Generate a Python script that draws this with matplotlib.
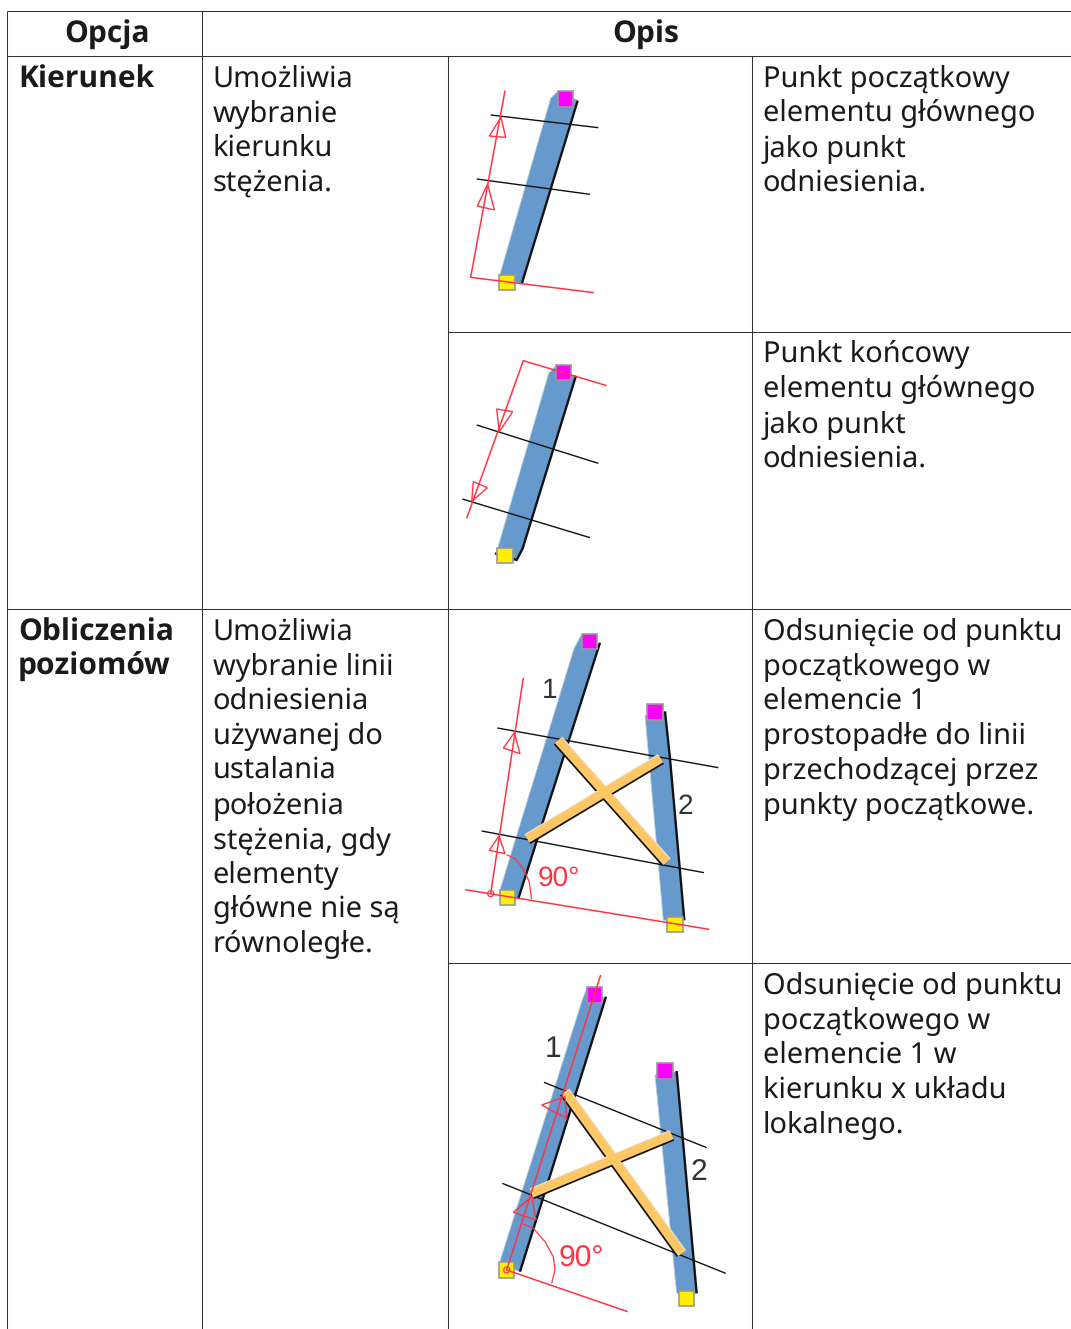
import matplotlib
matplotlib.use("Agg")
import matplotlib.pyplot as plt
from matplotlib.patches import Polygon, Rectangle, Circle
import numpy as np

plt.rcParams["text.hinting"] = "no_hinting"
plt.rcParams["text.hinting_factor"] = 1

W, H = 1071, 1329
FONT = "Noto Sans"
BOLD_FONT = "Open Sans"
FS = 20.85
BOLD_FS = 21.4
LINE = 34.7
TXT = "#1a1a1a"
GRID = "#333333"
BLUE = "#6699cc"; RED = "#ff3344"; ORANGE = "#ffc766"; MAG = "#ff00ff"; YEL = "#ffee00"

headers = [("Opcja", 107), ("Opis", 646)]
option_names = [(["Kierunek"], 87.5), (["Obliczenia", "poziomów"], 640.5)]
option_desc = [
    (["Umożliwia", "wybranie", "kierunku", "stężenia."], 86.4),
    (["Umożliwia", "wybranie linii", "odniesienia", "używanej do", "ustalania", "położenia",
      "stężenia, gdy", "elementy", "główne nie są", "równoległe."], 639.4),
]
cell_desc = [
    (["Punkt początkowy", "elementu głównego", "jako punkt", "odniesienia."], 86.4),
    (["Punkt końcowy", "elementu głównego", "jako punkt", "odniesienia."], 362.4),
    (["Odsunięcie od punktu", "początkowego w", "elemencie 1", "prostopadłe do linii",
      "przechodzącej przez", "punkty początkowe."], 639.4),
    (["Odsunięcie od punktu", "początkowego w", "elemencie 1 w", "kierunku x układu", "lokalnego."], 993.4),
]

# Table rules, as (x0, y0, x1, y1)
rules = [(7, 11, W, 11), (7, 56, W, 56), (7, 609, W, 609), (448, 332, W, 332), (448, 963, W, 963),
         (7, 11, 7, H), (202, 11, 202, H), (448, 56, 448, H), (752, 56, 752, H)]

# Diagrams, in 3x crop coordinates relative to each origin
diagrams = [
    dict(origin=(450, 60),
         beams=[[(322, 95), (382, 120), (214, 672), (148, 650), (302, 115)]],
         edges=[[(383, 122), (215, 672)]],
         squares=[(347, 117, MAG), (171, 668, YEL)],
         black=[[(122, 165), (445, 203)], [(80, 357), (420, 403)]],
         red=[[(165, 92), (62, 652), (432, 698)]],
         arrows=[[(153, 172), (118, 228), (167, 232)], [(113, 372), (82, 438), (133, 450)]],
         braces=[], arc=None, circle=None, labels=[], label_size=20),
    dict(origin=(450, 335),
         beams=[[(315, 95), (376, 125), (216, 650), (200, 675), (140, 650), (296, 115)]],
         edges=[[(378, 122), (218, 640), (200, 675), (135, 655)]],
         squares=[(340, 113, MAG), (165, 662, YEL)],
         black=[[(80, 270), (445, 385)], [(37, 492), (420, 608)]],
         red=[[(470, 152), (220, 77), (50, 550)]],
         arrows=[[(148, 290), (140, 222), (188, 230)], [(65, 500), (70, 440), (112, 458)]],
         braces=[], arc=None, circle=None, labels=[], label_size=20),
    dict(origin=(450, 612),
         beams=[[(392, 72), (449, 100), (205, 860), (148, 840), (372, 110)],
                [(585, 310), (645, 300), (660, 440), (702, 920), (640, 925)]],
         edges=[[(450, 92), (205, 860)], [(645, 298), (660, 440), (703, 925)]],
         squares=[(418, 88, MAG), (172, 856, YEL), (615, 300, MAG), (675, 937, YEL)],
         black=[[(142, 348), (805, 467)], [(95, 657), (762, 782)]],
         red=[[(45, 833), (778, 952)], [(220, 197), (122, 845)]],
         arrows=[[(193, 362), (160, 408), (210, 425)], [(147, 672), (118, 715), (165, 725)]],
         braces=[((325, 385), (650, 750)), ((232, 680), (632, 440))],
         arc=[(170, 728), (195, 740), (220, 770), (238, 810), (245, 862)], circle=(122, 845),
         labels=[("1", 298, 258, "#333333"), ("2", 705, 605, "#333333"), ("90°", 262, 820, RED)],
         label_size=20),
    dict(origin=(450, 965),
         beams=[[(410, 70), (467, 100), (210, 920), (148, 895), (395, 110)],
                [(615, 330), (680, 320), (739, 985), (680, 985)]],
         edges=[[(468, 95), (210, 920)], [(680, 318), (740, 985)]],
         squares=[(433, 90, MAG), (170, 915, YEL), (645, 318, MAG), (710, 1000, YEL)],
         black=[[(282, 352), (770, 548)], [(157, 655), (827, 925)]],
         red=[[(452, 30), (170, 915), (533, 1040)]],
         arrows=[[(345, 395), (275, 420), (350, 460)], [(245, 695), (190, 742), (258, 765)]],
         braces=[((345, 380), (695, 865)), ((245, 685), (665, 510))],
         arc=[(215, 775), (250, 790), (285, 830), (310, 875), (315, 915), (305, 955)], circle=(170, 915),
         labels=[("1", 310, 275, "#333333"), ("2", 745, 645, "#333333"), ("90°", 327, 904, RED)],
         label_size=21.5),
]

fig = plt.figure(figsize=(W / 100, H / 100), dpi=100, facecolor="white")
ax = fig.add_axes([0, 0, 1, 1])
ax.set_xlim(0, W); ax.set_ylim(H, 0); ax.axis("off")

for x0, y0, x1, y1 in rules:
    ax.plot([x0, x1], [y0, y1], color=GRID, lw=0.75, solid_capstyle="butt", zorder=1)


def put_lines(lines, x, y0, bold=False):
    for i, s in enumerate(lines):
        ax.text(x, y0 + i * LINE, s, family=BOLD_FONT if bold else FONT,
                fontsize=BOLD_FS if bold else FS,
                weight="bold" if bold else "normal", color=TXT, ha="left", va="baseline")


for s, x in headers:
    ax.text(x, 43, s, family=BOLD_FONT, fontsize=BOLD_FS, weight="bold", color=TXT, ha="center", va="baseline")
for lines, y in option_names:
    put_lines(lines, 18, y, True)
for lines, y in option_desc:
    put_lines(lines, 212.6, y)
for lines, y in cell_desc:
    put_lines(lines, 762.6, y)


def draw_diagram(d):
    ox, oy = d["origin"]
    P = lambda p: (ox + p[0] / 3, oy + p[1] / 3)

    def poly(pts, color, lw, z):
        q = [P(p) for p in pts]
        ax.plot([a for a, _ in q], [b for _, b in q], color=color, lw=lw, zorder=z,
                solid_joinstyle="round", solid_capstyle="butt")

    for b in d["beams"]:
        ax.add_patch(Polygon([P(p) for p in b], closed=True, fc=BLUE, ec="#b8cce0", lw=0.6, zorder=2))
    for e in d["edges"]:
        poly(e, "#111111", 1.7, 3)
    for l in d["black"]:
        poly(l, "#111111", 1.0, 4)
    for a, b in d["braces"]:
        (x0, y0), (x1, y1) = P(a), P(b)
        n = np.array([-(y1 - y0), x1 - x0]) / np.hypot(x1 - x0, y1 - y0)
        if n[1] < 0:
            n = -n
        ax.plot([x0 + 1.6 * n[0], x1 + 1.6 * n[0]], [y0 + 1.6 * n[1], y1 + 1.6 * n[1]],
                color="#111111", lw=6.6, zorder=5, solid_capstyle="butt")
        ax.plot([x0 - .8 * n[0], x1 - .8 * n[0]], [y0 - .8 * n[1], y1 - .8 * n[1]],
                color="#e8e8e8", lw=6.6, zorder=5, solid_capstyle="butt")
        ax.plot([x0, x1], [y0, y1], color=ORANGE, lw=6.4, zorder=6, solid_capstyle="butt")
    for x, y, c in d["squares"]:
        cx, cy = P((x, y))
        ax.add_patch(Rectangle((cx - 7.7, cy - 7.7), 15.4, 15.4, fc=c, ec="#999999", lw=1.2, zorder=7))
    for r in d["red"]:
        poly(r, RED, 1.1, 8)
    for t in d["arrows"]:
        ax.add_patch(Polygon([P(p) for p in t], closed=True, fc="none", ec=RED, lw=1.0, zorder=8))
    if d["arc"]:
        poly(d["arc"], RED, 0.9, 8)
    if d["circle"]:
        ax.add_patch(Circle(P(d["circle"]), 3, fc="none", ec=RED, lw=0.9, zorder=8))
    for s, x, y, c in d["labels"]:
        px, py = P((x, y))
        ax.text(px, py, s, family="Liberation Sans", fontsize=d["label_size"], color=c,
                ha="center" if len(s) == 1 else "left", va="baseline", zorder=9)


for d in diagrams:
    draw_diagram(d)

fig.savefig("out.png", dpi=100, facecolor="white")
